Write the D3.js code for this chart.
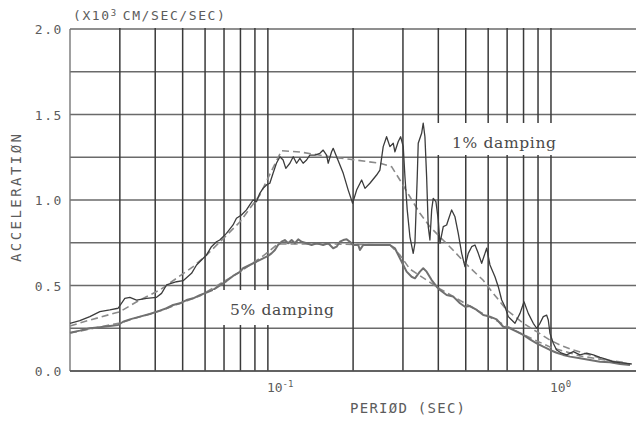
<!DOCTYPE html>
<html>
<head>
<meta charset="utf-8">
<script src="https://cdn.jsdelivr.net/npm/d3@7"></script>
<style>
  html, body { margin: 0; padding: 0; background: #fff; }
  svg { display: block; }
</style>
</head>
<body>
<svg id="chart" width="636" height="422"></svg>
<script>
// Response spectra: period (sec) vs. acceleration (x10^3 cm/sec/sec)

// 1% damping, computed spectrum
const damping1 = [
  [0.0200,0.279],[0.02166,0.294],[0.02350,0.318],[0.02549,0.347],[0.02765,0.357],[0.02958,0.367],
  [0.03124,0.425],[0.03254,0.431],[0.03436,0.415],[0.03727,0.425],[0.04043,0.431],[0.04211,0.454],
  [0.04385,0.503],[0.04757,0.522],[0.05020,0.528],[0.05375,0.571],[0.05598,0.620],[0.06067,0.678],
  [0.06320,0.727],[0.06583,0.756],[0.06761,0.766],[0.07141,0.805],[0.07534,0.854],[0.07745,0.893],
  [0.08067,0.912],[0.08402,0.942],[0.0863,0.971],[0.08866,1.000],[0.09115,0.990],[0.09363,1.039],
  [0.09616,1.068],[0.09887,1.088],[0.1016,1.098],[0.1043,1.156],[0.1072,1.215],[0.1103,1.253],
  [0.1132,1.234],[0.1157,1.185],[0.1196,1.215],[0.1229,1.253],[0.1263,1.215],[0.1297,1.244],
  [0.1332,1.215],[0.1370,1.234],[0.1407,1.263],[0.1466,1.263],[0.1527,1.273],[0.1568,1.292],
  [0.1612,1.263],[0.1633,1.215],[0.1679,1.282],[0.1701,1.302],[0.1749,1.253],[0.1846,1.156],
  [0.1922,1.058],[0.1992,0.981],[0.2058,1.058],[0.2144,1.117],[0.2203,1.068],[0.2293,1.098],
  [0.2421,1.146],[0.2487,1.175],[0.2555,1.312],[0.2626,1.370],[0.2698,1.312],[0.2772,1.332],
  [0.2810,1.282],[0.2886,1.341],[0.2944,1.370],[0.3007,1.312],[0.3049,1.136],[0.3106,0.942],
  [0.3175,0.785],[0.3261,0.688],[0.3307,0.747],[0.3370,1.136],[0.3397,1.332],[0.3492,1.390],
  [0.3538,1.449],[0.3587,1.370],[0.3637,1.136],[0.3685,0.844],[0.3736,0.766],[0.3789,0.942],
  [0.3838,1.010],[0.3923,0.990],[0.3998,0.883],[0.4054,0.747],[0.4164,0.844],[0.4280,0.854],
  [0.4337,0.883],[0.4458,0.942],[0.4580,0.902],[0.4704,0.805],[0.4837,0.688],[0.4968,0.610],
  [0.5104,0.688],[0.5247,0.727],[0.5389,0.737],[0.5536,0.688],[0.5691,0.630],[0.5846,0.688],
  [0.5927,0.718],[0.6088,0.620],[0.6341,0.551],[0.6514,0.493],[0.6696,0.415],[0.6880,0.376],
  [0.7066,0.318],[0.7264,0.298],[0.7462,0.279],[0.7773,0.337],[0.8030,0.405],[0.8313,0.337],
  [0.8660,0.279],[0.8903,0.250],[0.9144,0.279],[0.9393,0.318],[0.9656,0.327],[0.9783,0.298],
  [0.9919,0.220],[1.019,0.162],[1.047,0.123],[1.091,0.104],[1.136,0.094],[1.199,0.113],
  [1.266,0.094],[1.337,0.104],[1.411,0.094],[1.490,0.080],[1.573,0.068],[1.660,0.054],
  [1.754,0.049],[1.851,0.045],[1.929,0.041]
];

// 5% damping, computed spectrum
const damping5 = [
  [0.0200,0.224],[0.02166,0.236],[0.02350,0.250],[0.02549,0.256],[0.02765,0.263],[0.02958,0.269],
  [0.03082,0.288],[0.03254,0.302],[0.03529,0.318],[0.03828,0.333],[0.04153,0.353],[0.04385,0.367],
  [0.04627,0.386],[0.04887,0.396],[0.05161,0.415],[0.05445,0.425],[0.0575,0.444],[0.06067,0.458],
  [0.06403,0.474],[0.06668,0.493],[0.07141,0.526],[0.07534,0.556],[0.07957,0.579],[0.08173,0.601],
  [0.0863,0.620],[0.09115,0.639],[0.09616,0.659],[0.1002,0.673],[0.1030,0.688],[0.1059,0.708],
  [0.1086,0.737],[0.1118,0.756],[0.1148,0.766],[0.1179,0.747],[0.1213,0.766],[0.1246,0.747],
  [0.1280,0.770],[0.1315,0.756],[0.1370,0.747],[0.1427,0.737],[0.1486,0.747],[0.1568,0.737],
  [0.1633,0.747],[0.1701,0.718],[0.1749,0.727],[0.1797,0.756],[0.1846,0.766],[0.1898,0.770],
  [0.1949,0.756],[0.2002,0.737],[0.2085,0.737],[0.2114,0.708],[0.2172,0.737],[0.2293,0.737],
  [0.2487,0.737],[0.2698,0.737],[0.2810,0.718],[0.2927,0.659],[0.3007,0.620],[0.3091,0.581],
  [0.3219,0.551],[0.3307,0.542],[0.3444,0.581],[0.3538,0.601],[0.3637,0.581],[0.3789,0.532],
  [0.3946,0.493],[0.4054,0.474],[0.4280,0.444],[0.4516,0.435],[0.4770,0.396],[0.4968,0.376],
  [0.5175,0.380],[0.5465,0.357],[0.5766,0.327],[0.6088,0.318],[0.6429,0.302],[0.6783,0.259],
  [0.7164,0.250],[0.7567,0.230],[0.7984,0.211],[0.8430,0.185],[0.8903,0.162],[0.9393,0.142],
  [0.9919,0.123],[1.047,0.107],[1.105,0.094],[1.167,0.084],[1.266,0.074],[1.373,0.064],
  [1.490,0.054],[1.616,0.051],[1.754,0.041],[1.902,0.035]
];

// Smoothed spectra (dashed)
const smooth1 = [
  [0.0200,0.263],[0.02166,0.281],[0.0300,0.347],[0.03529,0.415],[0.04153,0.474],[0.04757,0.542],
  [0.05445,0.610],[0.06067,0.678],[0.06761,0.754],[0.07957,0.871],[0.09363,1.029],[0.1033,1.175],
  [0.1118,1.288],[0.1297,1.281],[0.1656,1.253],[0.1949,1.238],[0.2487,1.215],[0.2735,1.195],
  [0.2927,1.117],[0.3175,1.019],[0.3444,0.922],[0.3736,0.844],[0.4054,0.784],[0.4505,0.708],
  [0.4968,0.632],[0.5751,0.532],[0.6239,0.456],[0.6975,0.357],[0.7962,0.281],[0.8903,0.230],
  [0.9919,0.181],[1.076,0.152],[1.196,0.123],[1.373,0.094],[1.573,0.064],[1.851,0.047]
];

const smooth5 = [
  [0.0200,0.222],[0.0300,0.281],[0.04153,0.351],[0.0575,0.439],[0.07957,0.579],[0.09524,0.667],
  [0.1084,0.743],[0.1656,0.743],[0.2698,0.737],[0.2927,0.678],[0.3175,0.596],[0.4054,0.480],
  [0.5612,0.345],[0.7773,0.222],[0.9919,0.140],[1.266,0.088],[1.902,0.041]
];

const yTickValues = [0, 0.5, 1.0, 1.5, 2.0];
const yGridValues = [0, 0.25, 0.5, 0.75, 1.0, 1.25, 1.5, 1.75, 2.0];
const xDecades = [0.1, 1];
const xDecadeExponents = ["-1", "0"];

const svg = d3.select("#chart");
const x = d3.scaleLog().domain([0.02, 2]).range([70, 636.2]);
const y = d3.scaleLinear().domain([0, 2]).range([371, 29]);

const plotFont = "'DejaVu Sans Mono', monospace";
const textColor = "#5c5c5c";

// Grid: horizontal lines every 0.25
svg.append("g").selectAll("line").data(yGridValues).join("line")
  .attr("x1", x(0.02)).attr("x2", 636)
  .attr("y1", d => y(d)).attr("y2", d => y(d))
  .attr("stroke", "#6a6a6a").attr("stroke-width", 1.3);

// Grid: vertical lines at every log tick
svg.append("g").selectAll("line").data(x.ticks().filter(t => t > 0.02 && t < 2)).join("line")
  .attr("x1", d => x(d)).attr("x2", d => x(d))
  .attr("y1", y(2) - 1).attr("y2", y(0))
  .attr("stroke", "#3a3a3a").attr("stroke-width", 1.5);

// Frame left and bottom
svg.append("line").attr("x1", x(0.02)).attr("x2", x(0.02)).attr("y1", y(2)).attr("y2", y(0))
  .attr("stroke", "#777").attr("stroke-width", 1.4);
svg.append("line").attr("x1", x(0.02)).attr("x2", 636).attr("y1", y(0)).attr("y2", y(0))
  .attr("stroke", "#555").attr("stroke-width", 1.5);

const line = d3.line().x(d => x(d[0])).y(d => y(d[1]));

// Curves
svg.append("path").datum(smooth1).attr("d", line).attr("fill", "none")
  .attr("stroke", "#8a8a8a").attr("stroke-width", 1.6).attr("stroke-dasharray", "7,4");
svg.append("path").datum(smooth5).attr("d", line).attr("fill", "none")
  .attr("stroke", "#8a8a8a").attr("stroke-width", 1.6).attr("stroke-dasharray", "7,4");
svg.append("path").datum(damping5).attr("d", line).attr("fill", "none")
  .attr("stroke", "#707070").attr("stroke-width", 2).attr("stroke-linejoin", "round");
svg.append("path").datum(damping1).attr("d", line).attr("fill", "none")
  .attr("stroke", "#3c3c3c").attr("stroke-width", 1.3).attr("stroke-linejoin", "round");

// Curve labels on white boxes
const labels = [
  { text: "1% damping", x0: 437, x1: 564, y0: 123, y1: 155, tx: 452, ty: 148 },
  { text: "5% damping", x0: 213, x1: 350, y0: 290, y1: 325, tx: 230, ty: 315 }
];
labels.forEach(l => {
  svg.append("rect").attr("x", l.x0).attr("y", l.y0)
    .attr("width", l.x1 - l.x0).attr("height", l.y1 - l.y0).attr("fill", "#fff");
  svg.append("text").attr("x", l.tx).attr("y", l.ty)
    .attr("font-family", "'DejaVu Serif', serif")
    .attr("font-size", 15.5).attr("fill", "#4a4a4a")
    .attr("textLength", 104).attr("lengthAdjust", "spacing")
    .text(l.text);
});

// Y tick labels
svg.append("g").selectAll("text").data(yTickValues).join("text")
  .attr("x", 63).attr("y", d => y(d) + 5)
  .attr("text-anchor", "end")
  .attr("font-family", plotFont).attr("font-size", 13).attr("fill", textColor)
  .attr("letter-spacing", 1.6)
  .text(d => d3.format(".1f")(d));

// X decade labels
const xl = svg.append("g").selectAll("text").data(xDecades).join("text")
  .attr("x", d => x(d) - 1).attr("y", 392)
  .attr("font-family", plotFont).attr("font-size", 13).attr("fill", textColor);
xl.append("tspan").text("10");
xl.append("tspan").attr("dy", -5).attr("font-size", 9).text((d, i) => xDecadeExponents[i]);

// Axis titles
svg.append("text").attr("x", 350).attr("y", 413)
  .attr("font-family", plotFont).attr("font-size", 14).attr("fill", textColor)
  .attr("textLength", 115).attr("lengthAdjust", "spacing")
  .text("PERIØD (SEC)");

svg.append("text").attr("transform", "translate(21,262) rotate(-90)")
  .attr("font-family", plotFont).attr("font-size", 14).attr("fill", textColor)
  .attr("textLength", 128).attr("lengthAdjust", "spacing")
  .text("ACCELERATIØN");

const units = svg.append("text").attr("x", 73).attr("y", 20)
  .attr("font-family", plotFont).attr("font-size", 13).attr("fill", textColor)
  .attr("letter-spacing", 1.6);
units.append("tspan").text("(X10");
units.append("tspan").attr("dy", -4).attr("font-size", 9).text("3");
units.append("tspan").attr("dy", 4).attr("dx", 5).text("CM/SEC/SEC)");
</script>
</body>
</html>
